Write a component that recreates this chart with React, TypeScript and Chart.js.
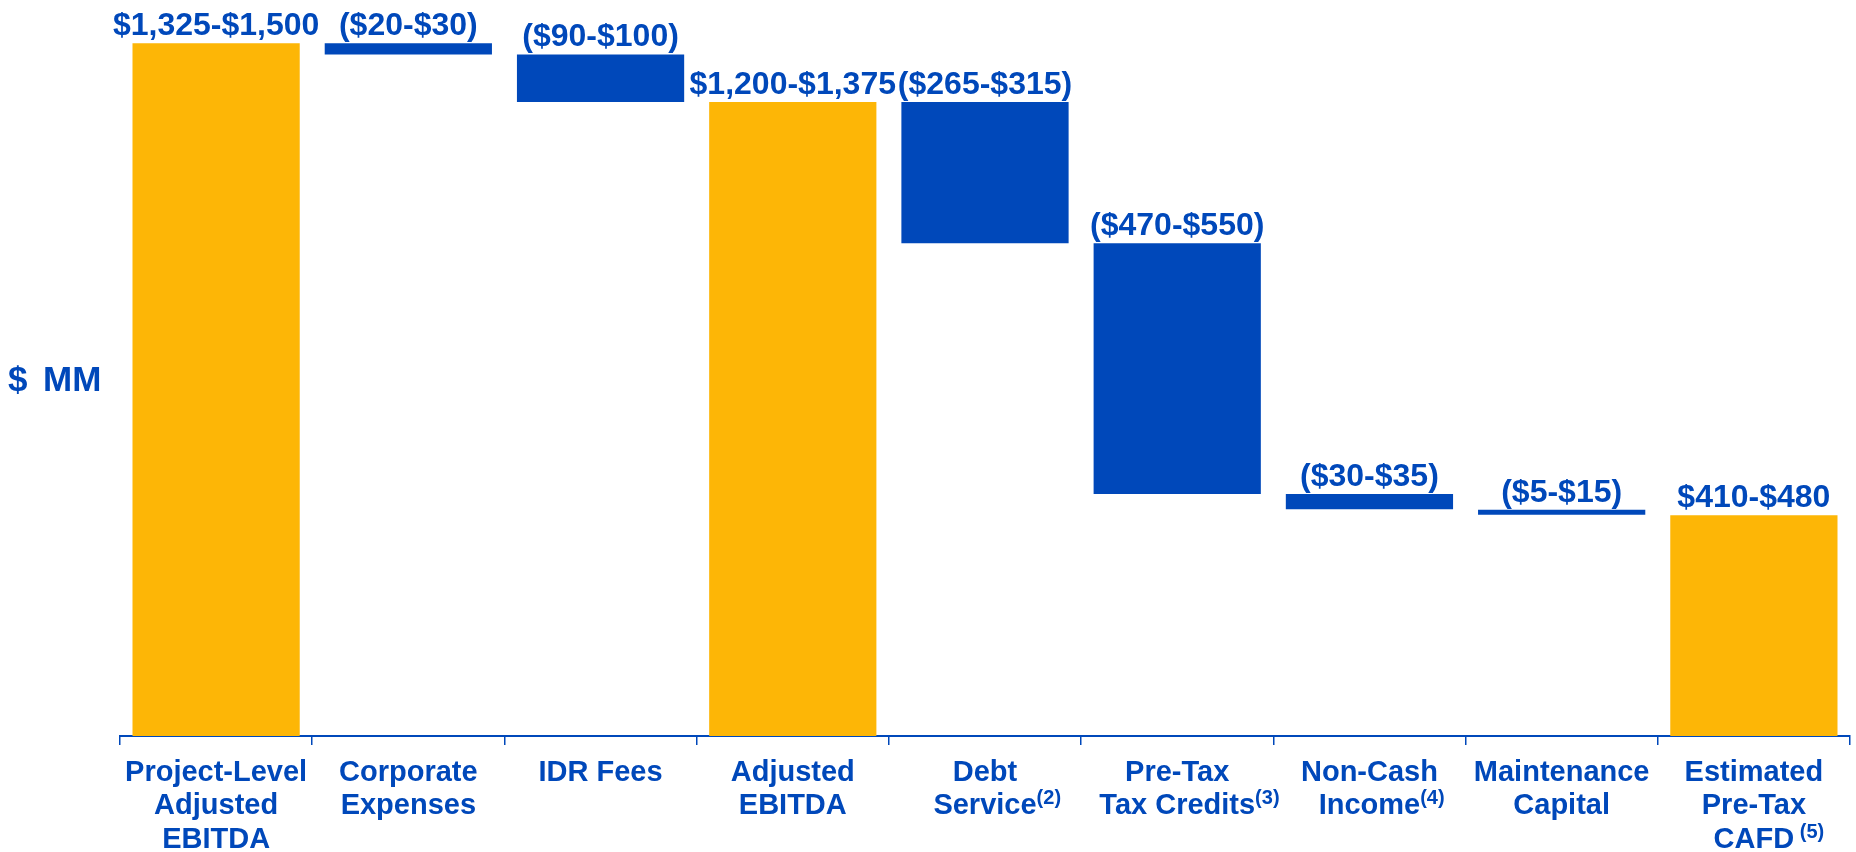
import React, { useEffect, useRef } from "react";
import { Chart, registerables } from "chart.js";

Chart.register(...registerables);

// Category label lines: [main text, superscript text]
const categoryLines: [string, string][][] = [
  [["Project-Level", ""], ["Adjusted", ""], ["EBITDA", ""]],
  [["Corporate", ""], ["Expenses", ""]],
  [["IDR Fees", ""]],
  [["Adjusted", ""], ["EBITDA", ""]],
  [["Debt", ""], ["Service", "(2)"]],
  [["Pre-Tax", ""], ["Tax Credits", "(3)"]],
  [["Non-Cash", ""], ["Income", "(4)"]],
  [["Maintenance", ""], ["Capital", ""]],
  [["Estimated", ""], ["Pre-Tax", ""], ["CAFD", " (5)"]],
];
const categories = categoryLines.map((lines) => lines.map((l) => l[0] + l[1]));

const barLows = [0, 1389, 1292, 0, 1004, 493, 462, 451, 0];
const barHighs = [1412, 1412, 1389, 1292, 1292, 1004, 493, 461, 450];
const isTotal = [true, false, false, true, false, false, false, false, true];

const valueLabels = [
  "$1,325-$1,500",
  "($20-$30)",
  "($90-$100)",
  "$1,200-$1,375",
  "($265-$315)",
  "($470-$550)",
  "($30-$35)",
  "($5-$15)",
  "$410-$480",
];

const yAxisTitle = "$ MM";
const yMin = 0;
const yMax = 1500;

const GOLD = "#FDB606";
const BLUE = "#0048BA";
const FONT = "'Liberation Sans', Arial, Helvetica, sans-serif";

export default function App() {
  const canvasRef = useRef<HTMLCanvasElement | null>(null);

  useEffect(() => {
    const canvas = canvasRef.current;
    if (!canvas) return;

    const labelPlugin = {
      id: "customLabels",
      afterDraw(chart: any) {
        const ctx = chart.ctx;
        const meta = chart.getDatasetMeta(0);
        const xScale = chart.scales.x;
        ctx.save();
        ctx.fillStyle = BLUE;
        ctx.textBaseline = "alphabetic";

        // value labels above bars
        ctx.font = `bold 32px ${FONT}`;
        ctx.textAlign = "center";
        meta.data.forEach((el: any, i: number) => {
          const top = Math.min(el.y, el.base);
          ctx.fillText(valueLabels[i], el.x, top - 8);
        });

        // category labels
        const axisY = chart.chartArea.bottom;
        const firstBaseline = axisY + 44.7;
        const lineGap = 33.5;
        categoryLines.forEach((lines, i) => {
          const cx = xScale.getPixelForValue(i);
          lines.forEach(([main, sup], j) => {
            const y = firstBaseline + j * lineGap;
            ctx.font = `bold 29px ${FONT}`;
            const w = ctx.measureText(main).width;
            ctx.textAlign = "left";
            const x0 = cx - w / 2;
            ctx.fillText(main, x0, y);
            if (sup) {
              ctx.font = `bold 20px ${FONT}`;
              ctx.fillText(sup, x0 + w, y - 10);
            }
          });
        });

        // y axis title
        const [sym, unit] = yAxisTitle.split(" ");
        ctx.font = `bold 35px ${FONT}`;
        ctx.textAlign = "left";
        ctx.fillText(sym, 8, 391);
        ctx.fillText(unit, 43, 391);
        ctx.restore();
      },
    };

    const chart = new Chart(canvas, {
      type: "bar",
      data: {
        labels: categories,
        datasets: [
          {
            data: barLows.map((lo, i) => [lo, barHighs[i]]),
            backgroundColor: isTotal.map((t) => (t ? GOLD : BLUE)),
            borderWidth: 0,
            barPercentage: 0.87,
            categoryPercentage: 1,
          },
        ],
      },
      options: {
        responsive: false,
        animation: false,
        devicePixelRatio: 1,
        layout: { padding: { left: 120, right: 6, top: 0, bottom: 0 } },
        plugins: {
          legend: { display: false },
          tooltip: { enabled: false },
          title: { display: false },
        },
        scales: {
          x: {
            offset: true,
            border: { display: true, color: BLUE, width: 2 },
            grid: {
              display: true,
              drawOnChartArea: false,
              drawTicks: true,
              tickLength: 9,
              color: BLUE,
              lineWidth: 1.5,
              offset: true,
            },
            ticks: {
              color: "rgba(0,0,0,0)",
              padding: 10,
              maxRotation: 0,
              autoSkip: false,
              font: { family: FONT, size: 29, weight: "bold", lineHeight: 1.155 },
            },
            afterFit(scale: any) {
              scale.height = 116;
            },
          },
          y: {
            display: false,
            min: yMin,
            max: yMax,
          },
        },
      },
      plugins: [labelPlugin],
    });

    return () => chart.destroy();
  }, []);

  return (
    <div style={{ position: "absolute", left: 0, top: 0, width: 1856, height: 852, background: "#fff" }}>
      <canvas ref={canvasRef} width={1856} height={852} />
    </div>
  );
}
